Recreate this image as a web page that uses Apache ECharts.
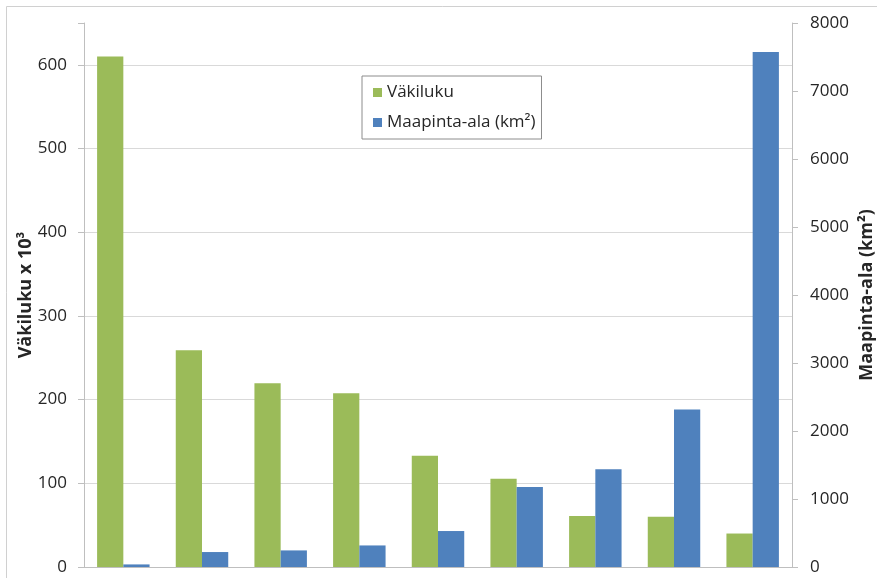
<!DOCTYPE html>
<html>
<head>
<meta charset="utf-8">
<script src="https://cdn.jsdelivr.net/npm/echarts@6/dist/echarts.min.js"></script>
<style>
  html, body { margin: 0; padding: 0; background: #ffffff; }
  #chart { width: 877px; height: 578px; }
</style>
</head>
<body>
<div id="chart"></div>
<script>
// Nine municipalities, category labels not printed on the axis
const categories = ['1', '2', '3', '4', '5', '6', '7', '8', '9'];
// Population in thousands (left axis)
const population = [610, 259, 219.5, 207.5, 133, 105.5, 61, 60, 40];
// Land area in km² (right axis)
const landArea = [38, 220, 244, 317, 529, 1175, 1439, 2315, 7573];
// Tick labels
const leftTicks = [0, 100, 200, 300, 400, 500, 600];
const rightTicks = [0, 1000, 2000, 3000, 4000, 5000, 6000, 7000, 8000];

const FONT = 'Open Sans';
const TEXT = '#262626';
const AXIS = '#bfbfbf';
const GRID = '#d9d9d9';

const chart = echarts.init(document.getElementById('chart'), null, { renderer: 'canvas' });

chart.setOption({
  animation: false,
  backgroundColor: '#ffffff',
  textStyle: { fontFamily: FONT, color: TEXT },
  graphic: [{
    type: 'rect',
    shape: { x: 6.5, y: 6.5, width: 900, height: 600 },
    style: { fill: null, stroke: '#d0d0d0', lineWidth: 1 },
    silent: true,
    z: -10
  }],
  grid: { left: 84, right: 85, top: 23, bottom: 11, containLabel: false, outerBoundsMode: 'none' },
  legend: {
    orient: 'vertical',
    left: 362,
    top: 76,
    padding: [8, 6, 8, 11],
    itemGap: 13,
    itemWidth: 9,
    itemHeight: 9,
    borderColor: '#8c8c8c',
    borderWidth: 1,
    backgroundColor: '#ffffff',
    icon: 'rect',
    textStyle: { fontFamily: FONT, fontSize: 17, color: TEXT, lineHeight: 17, padding: [0, 0, 0, 0] },
    data: ['Väkiluku', 'Maapinta-ala (km²)']
  },
  xAxis: {
    type: 'category',
    data: categories,
    axisLine: { show: true, lineStyle: { color: AXIS, width: 1 } },
    axisTick: { show: false },
    axisLabel: { show: false },
    splitLine: { show: false }
  },
  yAxis: [{
    type: 'value',
    position: 'left',
    min: 0,
    max: 650,
    interval: 100,
    name: 'Väkiluku x 10³',
    nameLocation: 'middle',
    nameRotate: 90,
    nameGap: 49,
    nameMoveOverlap: false,
    nameTextStyle: { fontFamily: FONT, fontSize: 18, fontWeight: 'bold', color: TEXT },
    axisLine: { show: true, lineStyle: { color: AXIS, width: 1 } },
    axisTick: { show: true, length: 6, lineStyle: { color: AXIS, width: 1 } },
    axisLabel: {
      fontFamily: FONT, fontSize: 17, color: TEXT, margin: 17,
      customValues: leftTicks
    },
    splitLine: { show: true, showMaxLine: false, lineStyle: { color: GRID, width: 1 } }
  }, {
    type: 'value',
    position: 'right',
    min: 0,
    max: 8000,
    interval: 1000,
    name: 'Maapinta-ala (km²)',
    nameLocation: 'middle',
    nameRotate: 90,
    nameGap: 66,
    nameMoveOverlap: false,
    nameTextStyle: { fontFamily: FONT, fontSize: 18, fontWeight: 'bold', color: TEXT },
    axisLine: { show: true, lineStyle: { color: AXIS, width: 1 } },
    axisTick: { show: true, length: 6, lineStyle: { color: AXIS, width: 1 } },
    axisLabel: {
      fontFamily: FONT, fontSize: 17, color: TEXT, margin: 18,
      customValues: rightTicks,
      formatter: (v) => String(v)
    },
    splitLine: { show: false }
  }],
  series: [{
    name: 'Väkiluku',
    type: 'bar',
    yAxisIndex: 0,
    data: population,
    barGap: '0%',
    barCategoryGap: '33.3%',
    itemStyle: { color: '#9bbb59' }
  }, {
    name: 'Maapinta-ala (km²)',
    type: 'bar',
    yAxisIndex: 1,
    data: landArea,
    barGap: '0%',
    barCategoryGap: '33.3%',
    itemStyle: { color: '#4f81bd' }
  }]
});
</script>
</body>
</html>
